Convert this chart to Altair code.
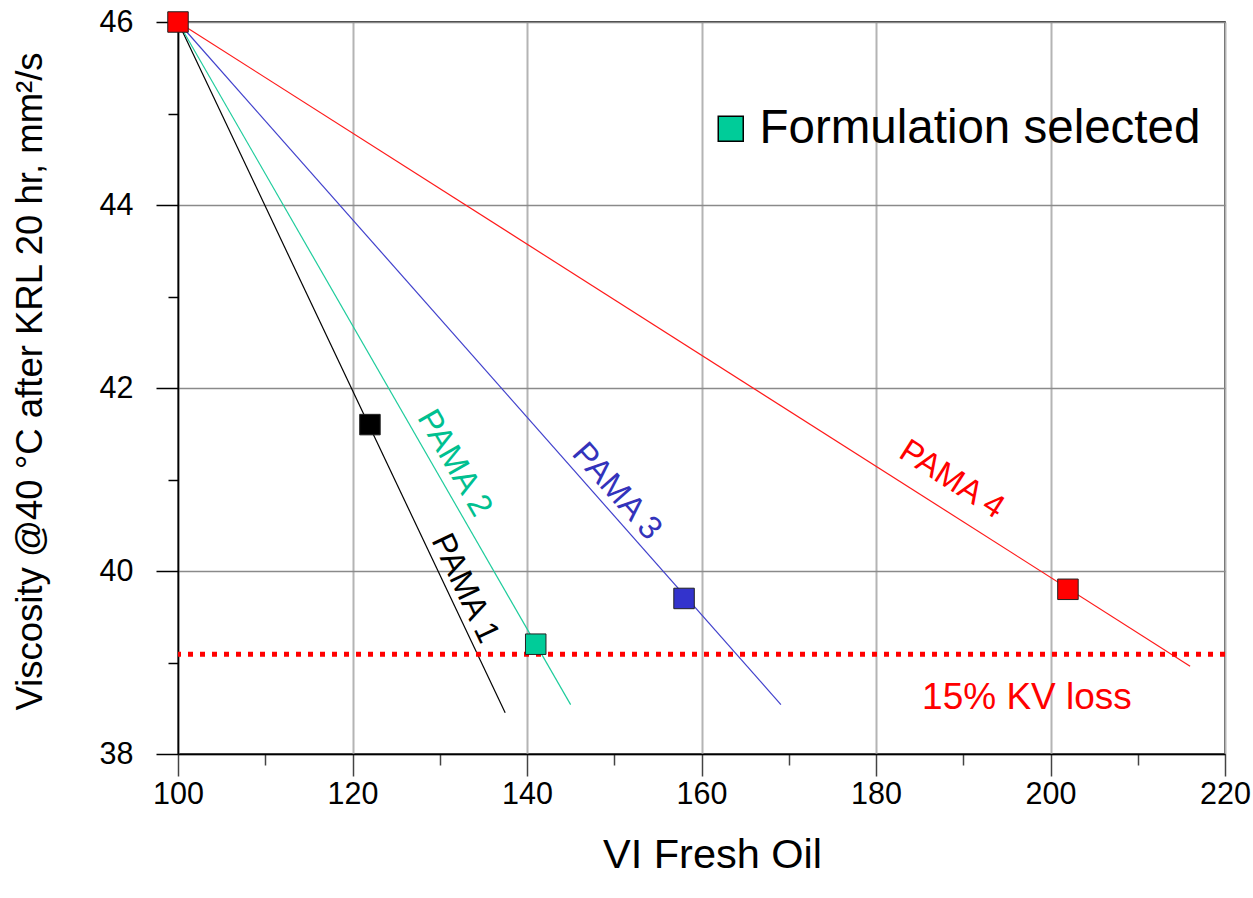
import math
import altair as alt
import pandas as pd

# ---- data ----
series = ["PAMA 1", "PAMA 2", "PAMA 3", "PAMA 4"]
series_colors = ["#000000", "#1fcc9c", "#4040cc", "#ff1a1a"]
marker_colors = ["#000000", "#00cc99", "#3333cc", "#ff0000"]
label_colors = ["#000000", "#00c090", "#3333bb", "#ff0000"]
start_vi = 100
start_kv = 46.0
end_vi = [137.5, 145.0, 169.1, 216.0]
end_kv = [38.45, 38.54, 38.54, 38.96]
point_vi = [122, 141, 158, 202]
point_kv = [41.6, 39.2, 39.7, 39.8]
selected = "PAMA 2"
label_vi = [132.9, 131.7, 150.3, 188.7]
label_kv = [39.81, 41.18, 40.87, 41.0]
loss_kv = 39.09
loss_text = "15% KV loss"
loss_text_vi = 197.3
loss_text_kv = 38.61
x_ticks = list(range(100, 221, 10))
y_ticks = list(range(38, 47, 1))

W, H = 1047, 732
XMIN, XMAX, YMIN, YMAX = 100, 220, 38, 46
FONT = "Liberation Sans"

xs = alt.Scale(domain=[XMIN, XMAX], nice=False, zero=False)
ys = alt.Scale(domain=[YMIN, YMAX], nice=False, zero=False)

x_axis = alt.Axis(
    values=x_ticks, format="d", labelFlush=False, labelOverlap=False,
    labelExpr="datum.value % 20 === 0 ? datum.label : ''",
    tickSize={"condition": {"test": "datum.value % 20 === 0", "value": 22}, "value": 11},
    gridOpacity={"condition": {"test": "datum.value % 20 === 0", "value": 1}, "value": 0},
    gridColor="#b4b4b4", gridWidth=2,
    tickColor="#444444", tickWidth=1.5,
    domainColor="#000000", domainWidth=1.5,
    labelFont=FONT, labelFontSize=30.5, labelColor="#000000", labelPadding=3,
    title="VI Fresh Oil", titleFont=FONT, titleFontSize=41.5, titleFontWeight="normal",
    titleColor="#000000", titleX=534, titleY=101, titleAlign="center", titleBaseline="middle",
)
y_axis = alt.Axis(
    values=y_ticks, format="d", labelFlush=False, labelOverlap=False,
    labelExpr="datum.value % 2 === 0 ? datum.label : ''",
    tickSize={"condition": {"test": "datum.value % 2 === 0", "value": 22}, "value": 10},
    gridOpacity={"condition": {"test": "datum.value % 2 === 0", "value": 1}, "value": 0},
    gridColor="#8a8a8a", gridWidth=1.5,
    tickColor="#000000", tickWidth=1.5,
    domainColor="#000000", domainWidth=1.5,
    labelFont=FONT, labelFontSize=30.5, labelColor="#000000", labelPadding=23,
    title="Viscosity @40 °C after KRL 20 hr, mm²/s", titleFont=FONT, titleFontSize=36.5,
    titleFontWeight="normal", titleColor="#000000", titleX=-148, titleY=359,
    titleAngle=270, titleAlign="center", titleBaseline="middle",
)

lines_rows = []
for s, ev, ek in zip(series, end_vi, end_kv):
    lines_rows.append({"series": s, "vi": start_vi, "kv": start_kv, "order": 0})
    lines_rows.append({"series": s, "vi": ev, "kv": ek, "order": 1})
lines_df = pd.DataFrame(lines_rows)

base = alt.Chart(lines_df)
lines = base.mark_line(strokeWidth=1.2).encode(
    x=alt.X("vi:Q", scale=xs, axis=x_axis),
    y=alt.Y("kv:Q", scale=ys, axis=y_axis),
    detail="series:N",
    order="order:Q",
    stroke=alt.Stroke("series:N", scale=alt.Scale(domain=series, range=series_colors), legend=None),
)

loss_df = pd.DataFrame({"kv": [loss_kv]})
loss_rule = alt.Chart(loss_df).mark_rule(color="#ff0000", strokeWidth=5, strokeDash=[5, 7]).encode(
    y=alt.Y("kv:Q", scale=ys)
)

pts = pd.DataFrame({
    "series": series, "vi": point_vi, "kv": point_kv, "fillc": marker_colors,
})
other_pts = pts[pts["series"] != selected]
sel_pts = pts[pts["series"] == selected].assign(status="Formulation selected")
start_df = pd.DataFrame({"vi": [start_vi], "kv": [start_kv], "fillc": [marker_colors[3]]})

markers = alt.Chart(pd.concat([other_pts, start_df])).mark_point(
    shape="square", filled=True, size=420, stroke="#222222", strokeWidth=1, opacity=1
).encode(
    x=alt.X("vi:Q", scale=xs),
    y=alt.Y("kv:Q", scale=ys),
    fill=alt.Fill("fillc:N", scale=None),
)

sel_marker = alt.Chart(sel_pts).mark_point(
    shape="square", filled=True, size=420, stroke="#222222", strokeWidth=1, opacity=1
).encode(
    x=alt.X("vi:Q", scale=xs),
    y=alt.Y("kv:Q", scale=ys),
    color=alt.Color(
        "status:N",
        scale=alt.Scale(domain=["Formulation selected"], range=["#00cc99"]),
        legend=alt.Legend(
            orient="none", legendX=529, legendY=83, title=None,
            symbolType="square", symbolSize=625, symbolStrokeColor="#000000",
            symbolStrokeWidth=1.5, symbolFillColor="#00cc99",
            labelFont=FONT, labelFontSize=47.5, labelColor="#000000",
            labelLimit=0, symbolOffset=0, labelOffset=5,
        ),
    ),
)

# labels rotated along their line (angle from the line geometry on screen)
label_layers = []
for s, lv, lk, ev, ek, c in zip(series, label_vi, label_kv, end_vi, end_kv, label_colors):
    dx = (ev - start_vi) / (XMAX - XMIN) * W
    dy = (start_kv - ek) / (YMAX - YMIN) * H
    ang = math.degrees(math.atan2(dy, dx))
    ldf = pd.DataFrame({"vi": [lv], "kv": [lk], "t": [s]})
    label_layers.append(
        alt.Chart(ldf).mark_text(
            font=FONT, fontSize=33, color=c, angle=ang, align="center", baseline="middle"
        ).encode(x=alt.X("vi:Q", scale=xs), y=alt.Y("kv:Q", scale=ys), text="t:N")
    )

loss_label = alt.Chart(pd.DataFrame({"vi": [loss_text_vi], "kv": [loss_text_kv], "t": [loss_text]})).mark_text(
    font=FONT, fontSize=37, color="#ff0000", align="center", baseline="middle"
).encode(x=alt.X("vi:Q", scale=xs), y=alt.Y("kv:Q", scale=ys), text="t:N")

chart = alt.layer(
    lines, loss_rule, *label_layers, loss_label, markers, sel_marker
).properties(
    width=W, height=H,
    autosize=alt.AutoSizeParams(type="none"),
    padding={"left": 178, "top": 22, "right": 28, "bottom": 144},
    background="#ffffff",
).configure_view(stroke="#000000", strokeWidth=1.5)

chart.save("out.html", embed_options={"renderer": "svg", "actions": False})
